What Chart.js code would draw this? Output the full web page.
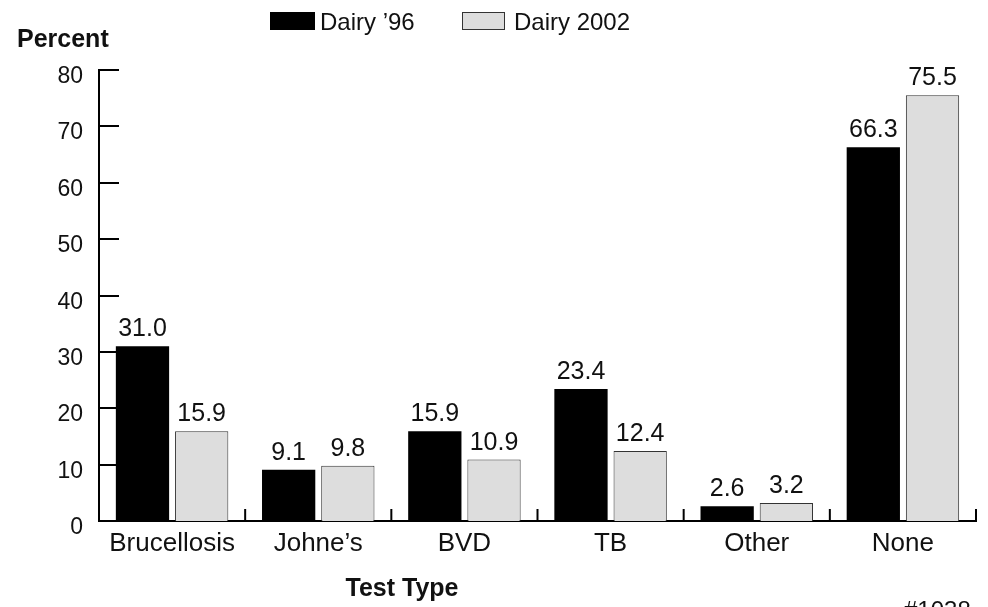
<!DOCTYPE html>
<html>
<head>
<meta charset="utf-8">
<script src="https://cdn.jsdelivr.net/npm/chart.js@4/dist/chart.umd.min.js"></script>
<style>
  html, body { margin: 0; padding: 0; background: #fff; }
  #wrap { width: 988px; height: 607px; position: relative; }
</style>
</head>
<body>
<div id="wrap"><canvas id="chartCanvas" width="988" height="607"></canvas></div>
<script>
var categories = ["Brucellosis", "Johne\u2019s", "BVD", "TB", "Other", "None"];
var dairy96 = [31.0, 9.1, 15.9, 23.4, 2.6, 66.3];
var dairy2002 = [15.9, 9.8, 10.9, 12.4, 3.2, 75.5];
var seriesNames = ["Dairy \u201996", "Dairy 2002"];
var yTicks = [0, 10, 20, 30, 40, 50, 60, 70, 80];

var FONT = "'Liberation Sans', Arial, sans-serif";

// tick marks inside the axes, tick labels, value labels, legend and titles
var extras = {
    id: "extras",
    afterDraw: function (chart) {
        var ctx = chart.ctx;
        var area = chart.chartArea;
        var y = chart.scales.y;
        var x = chart.scales.x;

        ctx.save();
        ctx.strokeStyle = "#000";
        ctx.lineWidth = 2;
        ctx.fillStyle = "#111";
        ctx.font = "23px " + FONT;
        ctx.textAlign = "right";
        ctx.textBaseline = "middle";
        // y ticks pointing right, labels a bit below
        for (var i = 0; i < yTicks.length; i++) {
            var py = Math.round(y.getPixelForValue(yTicks[i]));
            ctx.beginPath();
            ctx.moveTo(area.left, py);
            ctx.lineTo(area.left + 20, py);
            ctx.stroke();
            ctx.fillText(String(yTicks[i]), 83, py + 7);
        }
        // category separators pointing up
        for (var j = 1; j <= categories.length; j++) {
            var px = (x.getPixelForValue(j - 1) + x.getPixelForValue(j)) / 2;
            if (j === categories.length) px = area.right;
            ctx.beginPath();
            ctx.moveTo(px, area.bottom);
            ctx.lineTo(px, area.bottom - 12);
            ctx.stroke();
        }

        // values above bars
        ctx.font = "25px " + FONT;
        ctx.textAlign = "center";
        ctx.textBaseline = "alphabetic";
        chart.data.datasets.forEach(function (ds, di) {
            var meta = chart.getDatasetMeta(di);
            meta.data.forEach(function (bar, k) {
                ctx.fillText(ds.data[k].toFixed(1), bar.x, bar.y - 10);
            });
        });

        // legend
        ctx.fillStyle = "#000";
        ctx.fillRect(270, 12, 45, 18);
        ctx.fillStyle = "#dddddd";
        ctx.fillRect(462, 12, 43, 18);
        ctx.lineWidth = 1;
        ctx.strokeStyle = "#333";
        ctx.strokeRect(462.5, 12.5, 42, 17);
        ctx.fillStyle = "#111";
        ctx.textAlign = "left";
        ctx.font = "24px " + FONT;
        ctx.fillText(seriesNames[0], 320, 30);
        ctx.fillText(seriesNames[1], 514, 30);

        // titles
        ctx.font = "bold 25px " + FONT;
        ctx.fillText("Percent", 17, 47);
        ctx.textAlign = "center";
        ctx.fillText("Test Type", 402, 596);
        ctx.font = "24px " + FONT;
        ctx.textAlign = "left";
        ctx.fillText("#1038", 904, 618);
        ctx.restore();
    }
};

var ctx = document.getElementById("chartCanvas").getContext("2d");
new Chart(ctx, {
    type: "bar",
    data: {
        labels: categories,
        datasets: [{
            label: seriesNames[0],
            data: dairy96,
            backgroundColor: "#000000",
            borderColor: "#000000",
            borderWidth: 0,
            categoryPercentage: 0.81,
            barPercentage: 0.9
        }, {
            label: seriesNames[1],
            data: dairy2002,
            backgroundColor: "#dddddd",
            borderColor: "#333333",
            borderWidth: 1,
            categoryPercentage: 0.81,
            barPercentage: 0.9
        }]
    },
    options: {
        responsive: false,
        animation: false,
        layout: { padding: { left: 0, right: 12, top: 70, bottom: 0 } },
        plugins: {
            legend: { display: false },
            tooltip: { enabled: false }
        },
        scales: {
            y: {
                min: 0,
                max: 80,
                afterFit: function (s) { s.width = 99; },
                afterBuildTicks: function (s) {
                    s.ticks = yTicks.map(function (v) { return { value: v }; });
                },
                grid: { display: false, drawTicks: false },
                border: { display: true, color: "#000", width: 2 },
                ticks: { display: false }
            },
            x: {
                afterFit: function (s) { s.height = 86; },
                grid: { display: false, drawTicks: false },
                border: { display: true, color: "#000", width: 2 },
                ticks: {
                    color: "#111",
                    padding: 7,
                    maxRotation: 0,
                    font: { family: FONT, size: 26 }
                }
            }
        }
    },
    plugins: [extras]
});
</script>
</body>
</html>
